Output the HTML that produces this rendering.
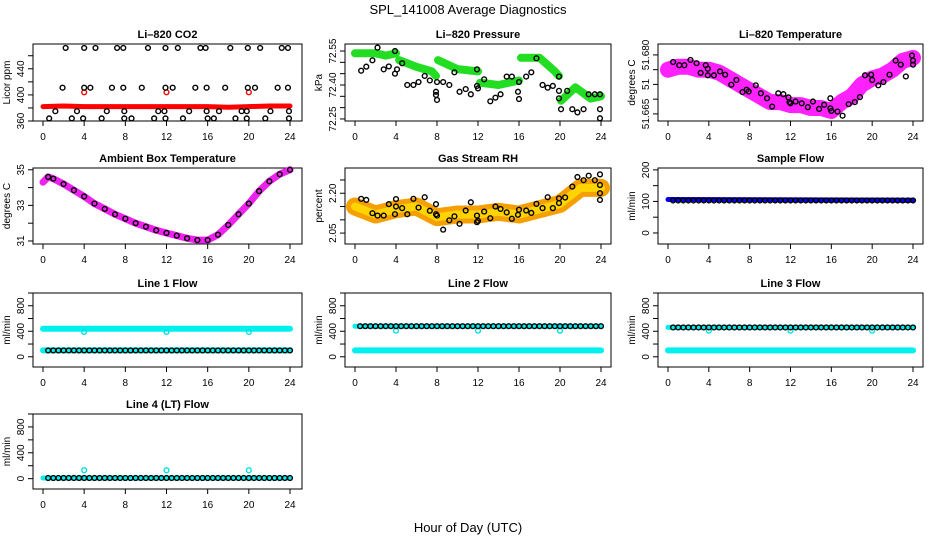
<!DOCTYPE html>
<html><head><meta charset="utf-8"><style>
html,body{margin:0;padding:0;background:#fff;}
svg{display:block;font-family:"Liberation Sans",sans-serif;}
</style></head><body>
<svg id="chart" width="936" height="540" viewBox="0 0 936 540" xmlns="http://www.w3.org/2000/svg">
<text x="468" y="14" text-anchor="middle" font-size="13">SPL_141008  Average Diagnostics</text>
<text x="468" y="532" text-anchor="middle" font-size="13">Hour of Day (UTC)</text>
</svg>
<script>
// ---------- data ----------
const hourTicks = [0,4,8,12,16,20,24];
const halfHours = [0.5,1,1.5,2,2.5,3,3.5,4,4.5,5,5.5,6,6.5,7,7.5,8,8.5,9,9.5,10,10.5,11,11.5,12,12.5,13,13.5,14,14.5,15,15.5,16,16.5,17,17.5,18,18.5,19,19.5,20,20.5,21,21.5,22,22.5,23,23.5,24];
const fullDay = [0,24];

const co2BandHours = [0,2,4,6,8,10,12,14,16,18,20,22,24];
const co2BandValues = [382,383,382,382,382,382,382,382,382,381,382,383,383];
const co2RedHours = [4,12,20];
const co2RedValues = [404,404,404];
const co2BlackHours = [2.2,4.0,5.1,7.2,7.8,10.2,11.9,13.1,15.3,15.8,18.2,19.9,21.1,23.2,23.8,
 1.9,4.0,4.6,6.7,7.8,9.6,11.9,12.6,14.8,15.9,17.7,19.9,20.6,22.8,23.8,
 1.2,3.3,6.2,7.9,11.2,11.8,14.2,15.9,17.1,19.3,19.8,22.1,23.9,
 0.6,2.8,3.9,5.7,7.9,8.6,10.8,11.9,13.6,16.0,16.6,18.7,19.8,21.6,23.9];
const co2BlackValues = [472,472,472,472,472,472,472,472,472,472,472,472,472,472,472,
 411,411,411,411,411,411,411,411,411,411,411,411,411,411,411,
 375,375,375,375,375,375,375,375,375,375,375,375,375,
 364,364,364,364,364,364,364,364,364,364,364,364,364,364,364];

const pressBandHours = [0,2,3,4,null,4.3,6,7.5,7.9,null,8.1,10,12,null,12.2,14,16,null,16.2,18,19.5,19.9,null,20.1,21.5,23,24];
const pressBandValues = [72.54,72.54,72.53,72.54,null,72.51,72.48,72.46,72.44,null,72.51,72.47,72.46,null,72.41,72.40,72.42,null,72.52,72.52,72.46,72.44,null,72.33,72.39,72.34,72.35];
const pressBlackHours = [0.6,1.1,1.7,2.2,2.8,3.3,3.9,3.9,4.1,4.6,5.1,5.7,6.2,6.8,7.3,7.9,7.9,8.0,8.0,8.6,9.2,9.7,10.2,10.8,11.3,11.9,11.9,12.0,12.6,13.2,13.7,14.2,14.8,15.3,15.9,16.0,16.0,16.7,17.2,17.7,18.3,18.8,19.3,19.9,19.9,19.9,20.1,20.7,21.2,21.7,22.3,22.8,23.4,23.9,23.9,23.9];
const pressBlackValues = [72.463,72.481,72.509,72.565,72.469,72.482,72.45,72.55,72.469,72.496,72.40,72.40,72.413,72.44,72.42,72.37,72.356,72.334,72.413,72.413,72.40,72.456,72.37,72.382,72.359,72.396,72.469,72.385,72.425,72.328,72.344,72.359,72.437,72.437,72.37,72.338,72.413,72.437,72.456,72.518,72.40,72.388,72.396,72.341,72.374,72.437,72.293,72.374,72.293,72.279,72.293,72.359,72.359,72.293,72.253,72.359];

const tempBandHours = [0,1,2,3,4,5,6,7,8,9,10,11,12,13,14,15,16,17,18,19,20,21,22,23,24];
const tempBandValues = [51.680,51.681,51.681,51.680,51.680,51.679,51.677,51.675,51.673,51.671,51.669,51.669,51.668,51.668,51.667,51.667,51.666,51.669,51.671,51.675,51.677,51.678,51.680,51.683,51.684];
const tempBlackHours = [0.5,1.1,1.6,2.2,2.8,3.2,3.7,3.9,3.9,4.5,5.1,5.6,6.2,6.7,7.3,7.7,7.9,8.6,9.1,9.7,10.2,10.8,11.3,11.8,11.9,12.0,12.5,13.1,13.7,14.2,14.8,15.3,15.9,15.9,16.0,16.6,17.1,17.7,18.3,18.8,19.3,19.9,20.0,20.6,21.1,21.7,22.3,22.8,23.3,23.9,24.0,24.0];
const tempBlackValues = [51.6826,51.6815,51.6815,51.6833,51.6822,51.6789,51.6815,51.6803,51.6781,51.6781,51.6794,51.6783,51.6749,51.6765,51.6724,51.6732,51.6726,51.6747,51.6720,51.6703,51.6675,51.6720,51.6717,51.6706,51.6690,51.6686,51.6692,51.6686,51.6673,51.6692,51.6667,51.6681,51.6703,51.6669,51.6660,51.6658,51.6644,51.6683,51.6690,51.6707,51.6781,51.6783,51.6765,51.6747,51.6758,51.6783,51.6831,51.6817,51.6777,51.6848,51.6831,51.6817];

const ambHours = [0,0.5,1,2,3,4,5,6,7,8,9,10,11,12,13,14,15,16,17,18,19,20,21,22,23,24];
const ambValues = [34.3,34.6,34.5,34.2,33.85,33.5,33.1,32.8,32.5,32.25,32.0,31.8,31.6,31.45,31.3,31.15,31.05,31.05,31.35,31.9,32.5,33.1,33.8,34.35,34.75,35.0];

const rhBandHours = [0,2,4,6,8,10,12,14,16,18,20,22,24];
const rhBandValues = [2.15,2.12,2.14,2.15,2.11,2.12,2.12,2.13,2.12,2.14,2.16,2.22,2.22];
const rhBlackHours = [0.6,1.1,1.7,2.2,2.8,3.3,3.9,4.0,4.0,4.6,5.1,5.7,6.2,6.8,7.3,7.9,7.9,8.0,8.6,9.2,9.7,10.2,10.8,11.3,11.9,11.9,12.0,12.6,13.2,13.7,14.2,14.8,15.3,15.9,16.0,16.7,17.2,17.7,18.3,18.8,19.3,19.9,19.9,20.5,21.2,21.7,22.3,22.8,23.4,23.9,23.9,23.9,23.9];
const rhBlackValues = [2.179,2.175,2.125,2.116,2.116,2.159,2.121,2.178,2.15,2.144,2.121,2.179,2.146,2.185,2.134,2.159,2.121,2.116,2.063,2.098,2.113,2.085,2.135,2.166,2.116,2.091,2.096,2.131,2.106,2.15,2.141,2.128,2.104,2.119,2.138,2.135,2.126,2.16,2.144,2.185,2.144,2.163,2.181,2.184,2.225,2.261,2.249,2.266,2.249,2.271,2.231,2.2,2.175];

const sampleBandValues = [106,104];
const sampleBlackValue = 103;

const line1Upper = 440, line1Lower = 100, line1Black = 100;
const line2Upper = 480, line2Lower = 100, line2Black = 480;
const line3Upper = 460, line3Lower = 100, line3Black = 460;
const line4Base = 10, line4Black = 10;
const outlierHours = [4,12,20];
const line1Outliers = [390,390,390];
const line2Outliers = [410,410,410];
const line3Outliers = [410,410,410];
const line4Outliers = [130,130,130];

// ---------- drawing ----------
const svg = document.getElementById('chart');
const NS = 'http://www.w3.org/2000/svg';
function mk(tag, attrs, parent){
  const e = document.createElementNS(NS, tag);
  for (const k in attrs) e.setAttribute(k, attrs[k]);
  (parent||svg).appendChild(e);
  return e;
}
const cols = [{bx0:33,bx1:302,h0:43,h24:290},{bx0:345,bx1:611,h0:355,h24:601},{bx0:658,bx1:923,h0:668,h24:913}];
const rows = [{by0:44,by1:121},{by0:168,by1:244},{by0:293,by1:367},{by0:414,by1:489}];

function panel(name, col, row, title, ylab, vmin, vmax, yticks, ylabels){
  const c = cols[col], r = rows[row];
  const g = mk('g', {});
  
  
  const xs = h => c.h0 + (h/24)*(c.h24 - c.h0);
  const ys = v => r.by1 - (v - vmin)/(vmax - vmin)*(r.by1 - r.by0);
  const t = mk('text', {x:(c.bx0+c.bx1)/2, y:r.by0-6, 'text-anchor':'middle','font-size':'11','font-weight':'bold'}, g);
  t.textContent = title;
  
  
  const box = mk('rect', {x:c.bx0, y:r.by0, width:c.bx1-c.bx0, height:r.by1-r.by0, fill:'none', stroke:'#000','stroke-width':'1'}, g);
  
  
  const xa = mk('g', {}, g);
  
  
  hourTicks.forEach(h => {
    mk('line', {x1:xs(h), x2:xs(h), y1:r.by1, y2:r.by1+5, stroke:'#000'}, xa);
    const tl = mk('text', {x:xs(h), y:r.by1+19, 'text-anchor':'middle','font-size':'10'}, xa);
    tl.textContent = h;
  });
  const ya = mk('g', {}, g);
  
  
  yticks.forEach((v,i) => {
    mk('line', {x1:c.bx0-5, x2:c.bx0, y1:ys(v), y2:ys(v), stroke:'#000'}, ya);
    if (ylabels[i] !== '') {
      const tl = mk('text', {x:0, y:0, 'text-anchor':'middle','font-size':'10', transform:`translate(${c.bx0-9},${ys(v)}) rotate(-90)`}, ya);
      tl.textContent = ylabels[i];
    }
  });
  const yl = mk('text', {x:0,y:0,'text-anchor':'middle','font-size':'10',transform:`translate(${c.bx0-23},${(r.by0+r.by1)/2}) rotate(-90)`}, g);
  yl.textContent = ylab;
  
  
  return {g, xs, ys};
}
function band(p, hours, vals, color, w, name){
  let segs = [], cur = [];
  hours.forEach((h,i) => {
    if (h === null) { if (cur.length) segs.push(cur); cur = []; }
    else cur.push(p.xs(h).toFixed(1) + ',' + p.ys(vals[i]).toFixed(1));
  });
  if (cur.length) segs.push(cur);
  segs.forEach(s => {
    const pl = mk('polyline', {points:s.join(' '), fill:'none', stroke:color, 'stroke-width':w, 'stroke-linecap':'round','stroke-linejoin':'round'}, p.g);
    
    
  });
}
function pts(p, hours, vals, color, name, rad){
  hours.forEach((h,i) => {
    const v = Array.isArray(vals) ? vals[i] : vals;
    const ci = mk('circle', {cx:p.xs(h), cy:p.ys(v), r:rad||2.4, fill:'none', stroke:color, 'stroke-width':'1.4'}, p.g);
    
    
  });
}

// Li-820 CO2
let p = panel('co2', 0, 0, 'Li\u2013820 CO2', 'Licor ppm', 360, 478, [360,380,400,420,440,460], ['360','','400','','440','']);
band(p, co2BandHours, co2BandValues, '#ff0000', 5, 'co2-series-band');
pts(p, co2RedHours, co2RedValues, '#ff0000', 'co2-red-point');
pts(p, co2BlackHours, co2BlackValues, '#000', 'co2-black-point');

// Pressure
p = panel('pressure', 1, 0, 'Li\u2013820 Pressure', 'kPa', 72.241, 72.581, [72.25,72.30,72.35,72.40,72.45,72.50,72.55], ['72.25','','','72.40','','','72.55']);
band(p, pressBandHours, pressBandValues, '#22dd22', 8, 'pressure-series-band');
pts(p, pressBlackHours, pressBlackValues, '#000', 'pressure-black-point');

// Temperature
p = panel('licor-temp', 2, 0, 'Li\u2013820 Temperature', 'degrees C', 51.6626, 51.6887, [51.665,51.670,51.675,51.680,51.685], ['51.665','','51','','51.680']);
band(p, tempBandHours, tempBandValues, '#ff22ff', 16, 'licor-temp-series-band');
pts(p, tempBlackHours, tempBlackValues, '#000', 'licor-temp-black-point');

// Ambient
p = panel('ambient', 0, 1, 'Ambient Box Temperature', 'degrees C', 30.83, 35.1, [31,32,33,34,35], ['31','','33','','35']);
band(p, ambHours, ambValues, '#ee22ee', 7, 'ambient-series-band');
pts(p, ambHours.slice(1), ambValues.slice(1), '#000', 'ambient-black-point');

// RH
p = panel('rh', 1, 1, 'Gas Stream RH', 'percent', 2.009, 2.295, [2.05,2.10,2.15,2.20,2.25], ['2.05','','','2.20','']);
band(p, rhBandHours, rhBandValues, '#f5a000', 18, 'rh-series-band');
band(p, rhBandHours, rhBandValues, '#ffd400', 8, 'rh-series-band-core');
pts(p, rhBlackHours, rhBlackValues, '#000', 'rh-black-point');

// Sample flow
p = panel('sample-flow', 2, 1, 'Sample Flow', 'ml/min', -35, 206, [0,50,100,150,200], ['0','','100','','200']);
band(p, fullDay, sampleBandValues, '#0000ee', 5, 'sample-flow-band');
pts(p, halfHours, sampleBlackValue, '#000', 'sample-flow-point');

const flowTicks = [0,200,400,600,800,1000], flowLabels = ['0','','400','','800',''];
// Line 1
p = panel('line1', 0, 2, 'Line 1 Flow', 'ml/min', -160, 1000, flowTicks, flowLabels);
band(p, fullDay, [line1Upper,line1Upper], '#00f0f0', 6, 'line1-upper-band');
band(p, fullDay, [line1Lower,line1Lower], '#00f0f0', 6, 'line1-lower-band');
pts(p, outlierHours, line1Outliers, '#00e0e0', 'line1-outlier');
pts(p, halfHours, line1Black, '#000', 'line1-point');
// Line 2
p = panel('line2', 1, 2, 'Line 2 Flow', 'ml/min', -160, 1000, flowTicks, flowLabels);
band(p, fullDay, [line2Upper,line2Upper], '#00f0f0', 5, 'line2-upper-band');
band(p, fullDay, [line2Lower,line2Lower], '#00f0f0', 6, 'line2-lower-band');
pts(p, outlierHours, line2Outliers, '#00e0e0', 'line2-outlier');
pts(p, halfHours, line2Black, '#000', 'line2-point');
// Line 3
p = panel('line3', 2, 2, 'Line 3 Flow', 'ml/min', -160, 1000, flowTicks, flowLabels);
band(p, fullDay, [line3Upper,line3Upper], '#00f0f0', 5, 'line3-upper-band');
band(p, fullDay, [line3Lower,line3Lower], '#00f0f0', 6, 'line3-lower-band');
pts(p, outlierHours, line3Outliers, '#00e0e0', 'line3-outlier');
pts(p, halfHours, line3Black, '#000', 'line3-point');
// Line 4
p = panel('line4', 0, 3, 'Line 4 (LT) Flow', 'ml/min', -160, 1000, flowTicks, flowLabels);
band(p, fullDay, [line4Base,line4Base], '#00f0f0', 5, 'line4-band');
pts(p, outlierHours, line4Outliers, '#00e0e0', 'line4-outlier');
pts(p, halfHours, line4Black, '#000', 'line4-point');
</script>
</body></html>
